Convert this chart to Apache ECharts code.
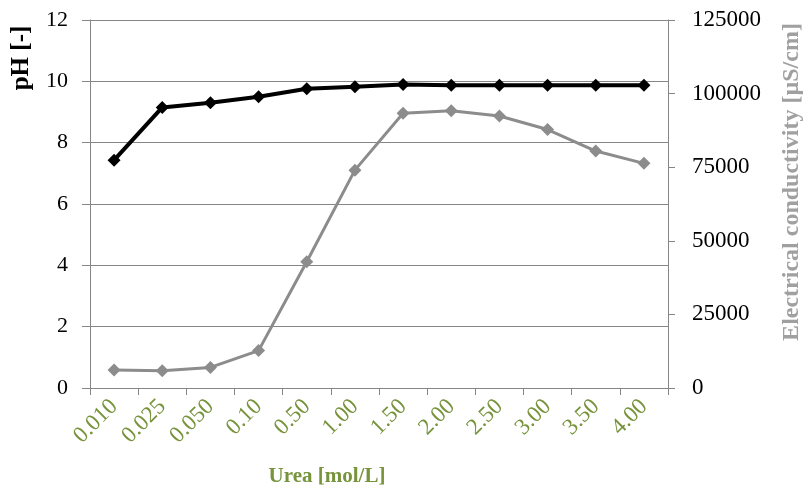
<!DOCTYPE html>
<html>
<head>
<meta charset="utf-8">
<script src="https://cdn.jsdelivr.net/npm/echarts@6/dist/echarts.min.js"></script>
<style>html,body{margin:0;padding:0;background:#fff}#c{width:803px;height:491px}</style>
</head>
<body>
<div id="c"></div>
<script>
const categories = ['0.010','0.025','0.050','0.10','0.50','1.00','1.50','2.00','2.50','3.00','3.50','4.00'];
const pH = [7.43, 9.15, 9.30, 9.50, 9.76, 9.82, 9.90, 9.87, 9.87, 9.87, 9.87, 9.87];
const conductivity = [6100, 5900, 7000, 12700, 42900, 74000, 93300, 94200, 92400, 87800, 80500, 76300];

const FONT = '"Liberation Serif", "Times New Roman", serif';
const chart = echarts.init(document.getElementById('c'), null, {renderer: 'canvas'});
chart.setOption({
  animation: false,
  backgroundColor: '#fff',
  grid: {left: 90, right: 135, top: 20, bottom: 103, containLabel: false, outerBoundsMode: 'none'},
  xAxis: {
    type: 'category',
    data: categories,
    boundaryGap: true,
    name: 'Urea [mol/L]',
    nameLocation: 'middle',
    nameGap: 78,
    nameTextStyle: {fontFamily: FONT, fontSize: 21, fontWeight: 'bold', color: '#77933C', padding: [0, 104, 0, 0]},
    axisLine: {lineStyle: {color: '#868686', width: 1}},
    axisTick: {show: true, alignWithLabel: false, length: 7, lineStyle: {color: '#868686'}},
    axisLabel: {rotate: 45, fontFamily: FONT, fontSize: 23, color: '#77933C', margin: 15, interval: 0}
  },
  yAxis: [{
    type: 'value',
    min: 0, max: 12, interval: 2,
    position: 'left',
    name: 'pH [-]',
    nameLocation: 'middle',
    nameRotate: 90,
    nameGap: 56,
    nameTextStyle: {fontFamily: FONT, fontSize: 25, fontWeight: 'bold', color: '#000', padding: [0, 0, 0, 292]},
    axisLine: {show: true, lineStyle: {color: '#868686', width: 1}},
    axisTick: {show: true, length: 8, lineStyle: {color: '#868686'}},
    axisLabel: {fontFamily: FONT, fontSize: 22, color: '#000', margin: 22},
    splitLine: {show: true, lineStyle: {color: '#868686', width: 1}}
  }, {
    type: 'value',
    min: 0, max: 125000, interval: 25000,
    position: 'right',
    name: 'Electrical conductivity [µS/cm]',
    nameLocation: 'middle',
    nameRotate: 90,
    nameGap: 112,
    nameTextStyle: {fontFamily: FONT, fontSize: 24, fontWeight: 'bold', color: '#A0A0A0', padding: [0, 0, 0, 44]},
    axisLine: {show: true, lineStyle: {color: '#868686', width: 1}},
    axisTick: {show: true, length: 7, lineStyle: {color: '#868686'}},
    axisLabel: {fontFamily: FONT, fontSize: 23, color: '#000', margin: 24, formatter: v => String(v)},
    splitLine: {show: false}
  }],
  series: [{
    name: 'pH',
    type: 'line',
    yAxisIndex: 0,
    data: pH,
    symbol: 'diamond',
    symbolSize: 13,
    lineStyle: {color: '#000', width: 4},
    itemStyle: {color: '#000'},
    z: 3
  }, {
    name: 'Electrical conductivity',
    type: 'line',
    yAxisIndex: 1,
    data: conductivity,
    symbol: 'diamond',
    symbolSize: 13,
    lineStyle: {color: '#8C8C8C', width: 3},
    itemStyle: {color: '#8C8C8C'},
    z: 2
  }]
});
</script>
</body>
</html>
